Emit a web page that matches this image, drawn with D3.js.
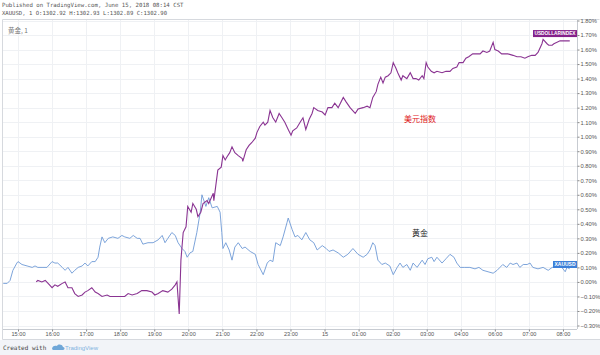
<!DOCTYPE html>
<html><head><meta charset="utf-8">
<script src="https://cdn.jsdelivr.net/npm/d3@7"></script>
<style>html,body{margin:0;padding:0;background:#fff;}svg{display:block;}</style>
</head><body>
<script>
// ---- data ----
// session minutes since 15:00 (05:00-06:00 break removed), value in %
const goldMinutes = [-26,-19,-14,-9,-2,0,7,16,25,30,35,44,51,60,65,70,78,83,88,95,100,106,113,118,123,130,136,141,144,148,153,159,167,176,183,188,197,203,210,215,220,229,238,247,254,259,264,271,277,282,289,294,298,303,308,315,321,324,331,336,342,351,356,359,361,366,372,377,382,388,395,400,409,418,423,432,439,444,449,454,462,467,474,476,483,488,493,500,507,514,521,527,536,543,548,555,564,573,581,590,599,608,615,620,625,629,634,641,647,655,661,668,673,678,685,691,696,703,712,717,722,729,733,738,747,754,761,768,773,779,787,796,805,812,819,828,837,844,849,854,861,867,872,879,884,890,897,902,907,916,925,934,941,950,958,964,967,972];
const goldValues = [-0.01,-0.01,0.01,0.08,0.13,0.14,0.12,0.11,0.10,0.11,0.10,0.10,0.10,0.14,0.13,0.13,0.10,0.08,0.10,0.06,0.08,0.10,0.11,0.13,0.11,0.14,0.14,0.17,0.24,0.31,0.27,0.30,0.31,0.30,0.32,0.31,0.30,0.32,0.30,0.30,0.26,0.27,0.27,0.29,0.32,0.27,0.30,0.34,0.32,0.27,0.23,0.21,0.17,0.20,0.21,0.34,0.48,0.60,0.52,0.58,0.51,0.52,0.48,0.34,0.23,0.27,0.22,0.15,0.24,0.27,0.23,0.24,0.21,0.19,0.12,0.05,0.13,0.15,0.14,0.27,0.25,0.31,0.41,0.44,0.36,0.31,0.32,0.29,0.34,0.29,0.27,0.22,0.25,0.23,0.21,0.22,0.20,0.17,0.19,0.23,0.19,0.17,0.19,0.22,0.27,0.25,0.15,0.12,0.13,0.11,0.05,0.10,0.13,0.10,0.12,0.08,0.13,0.10,0.15,0.12,0.16,0.17,0.14,0.17,0.13,0.16,0.19,0.17,0.13,0.10,0.10,0.10,0.09,0.10,0.08,0.07,0.06,0.08,0.10,0.12,0.10,0.13,0.12,0.13,0.10,0.12,0.12,0.13,0.10,0.09,0.10,0.08,0.10,0.10,0.10,0.07,0.10,0.09];

const usdMinutes = [32,35,42,48,53,60,65,70,78,83,88,95,100,106,113,118,123,130,136,141,148,157,162,171,180,188,194,201,210,218,227,236,241,247,255,264,271,277,280,284,287,291,296,299,305,308,314,317,322,326,333,336,344,345,349,352,358,361,365,368,373,377,382,388,395,396,402,407,412,418,421,426,432,435,440,444,449,454,460,465,470,476,481,484,491,497,502,507,513,518,521,528,536,541,546,553,558,564,573,578,585,594,599,608,615,620,625,631,634,639,643,647,652,657,661,666,669,675,678,685,691,696,701,706,712,715,719,722,728,733,738,747,754,761,766,773,777,784,789,794,801,808,814,819,826,831,837,840,846,852,858,863,872,879,886,893,898,905,911,916,923,925,932,935,941,944,955,972];
const usdValues = [0.00,0.01,0.00,0.01,-0.01,-0.04,-0.02,-0.03,-0.01,0.00,-0.04,-0.04,-0.08,-0.10,-0.09,-0.07,-0.06,-0.04,-0.07,-0.08,-0.10,-0.09,-0.10,-0.10,-0.10,-0.10,-0.08,-0.09,-0.08,-0.06,-0.06,-0.07,-0.09,-0.08,-0.06,-0.07,-0.05,-0.02,0.00,-0.22,0.15,0.34,0.38,0.52,0.48,0.54,0.50,0.45,0.48,0.54,0.56,0.54,0.61,0.56,0.68,0.77,0.79,0.87,0.84,0.86,0.89,0.93,0.89,0.87,0.85,0.83,0.91,0.94,0.96,0.99,1.03,1.07,1.10,1.08,1.10,1.18,1.13,1.10,1.16,1.13,1.10,1.05,1.01,1.04,1.06,1.10,1.13,1.05,1.12,1.16,1.20,1.18,1.17,1.15,1.20,1.20,1.23,1.20,1.27,1.24,1.20,1.16,1.19,1.20,1.21,1.20,1.27,1.31,1.36,1.41,1.37,1.41,1.42,1.44,1.51,1.47,1.44,1.39,1.42,1.40,1.44,1.40,1.40,1.39,1.42,1.40,1.51,1.48,1.45,1.44,1.45,1.44,1.45,1.45,1.47,1.48,1.51,1.51,1.54,1.55,1.57,1.57,1.57,1.59,1.58,1.59,1.65,1.60,1.59,1.57,1.57,1.57,1.56,1.55,1.55,1.54,1.55,1.56,1.56,1.58,1.64,1.67,1.64,1.63,1.63,1.64,1.66,1.66];

const tickMinutes = [0,60,120,180,240,300,360,420,480,540,600,660,720,780,840,900,960];
const tickLabels = ["15:00","16:00","17:00","18:00","19:00","20:00","21:00","22:00","23:00","15","01:00","02:00","03:00","04:00","06:00","07:00","08:00"];
const yTicks = [-0.3,-0.2,-0.1,0,0.1,0.2,0.3,0.4,0.5,0.6,0.7,0.8,0.9,1.0,1.1,1.2,1.3,1.4,1.5,1.6,1.7,1.8];

const W = 600, H = 355;
const L = 3, R = 577, T = 20, B = 329;
const AX = "'Liberation Sans', Arial, sans-serif";

const svg = d3.select("body").append("svg").attr("width", W).attr("height", H)
  .style("font-family", AX);

const x = d3.scaleLinear().domain([(L-18)*1.7616, (R-18)*1.7616]).range([L, R]);
const y = d3.scaleLinear().domain([-0.30, 1.80]).range([325.5, 20.5]);

// footer background
svg.append("rect").attr("x",0).attr("y",340).attr("width",W).attr("height",15).attr("fill","#f2f4f8");

// header text
svg.append("text").attr("x",2).attr("y",7).attr("font-family","'DejaVu Sans Mono', monospace")
  .attr("font-size",5.7).attr("fill","#555").text("Published on TradingView.com, June 15, 2018 08:14 CST");
svg.append("text").attr("x",2).attr("y",15).attr("font-family","'DejaVu Sans Mono', monospace")
  .attr("font-size",5.6).attr("fill","#555").text("XAUUSD, 1 O:1302.92 H:1302.93 L:1302.89 C:1302.90");

// frame (left, top, bottom)
svg.append("path").attr("d",`M${W-0.5},${T-0.5}H${L-0.5}V${339.5}H${W}`)
  .attr("fill","none").attr("stroke","#d6d9de");

// grid
const grid = svg.append("g");
grid.selectAll("line.h").data(yTicks).join("line")
  .attr("x1",L).attr("x2",R).attr("y1",d=>Math.round(y(d))+0.5).attr("y2",d=>Math.round(y(d))+0.5)
  .attr("stroke","#eff1f4").attr("stroke-width",1);
grid.selectAll("line.v").data(tickMinutes).join("line")
  .attr("y1",T).attr("y2",B).attr("x1",d=>Math.round(x(d))+0.5).attr("x2",d=>Math.round(x(d))+0.5)
  .attr("stroke","#eff1f4").attr("stroke-width",1);

// axes
const yAxis = d3.axisRight(y).tickValues(yTicks).tickSize(2).tickPadding(1)
  .tickFormat(d => d3.format(".2f")(d) + "%");
const gy = svg.append("g").attr("transform",`translate(${R+0.5},0)`).call(yAxis);
gy.select(".domain").attr("stroke","#c7cbd1").attr("d",`M0,${T}V${B}`);
gy.selectAll(".tick line").attr("stroke","#888");
gy.selectAll("text").attr("font-size",5.8).attr("fill","#555").attr("font-family",AX);

const xAxis = d3.axisBottom(x).tickValues(tickMinutes).tickSize(2).tickPadding(1)
  .tickFormat((d,i) => tickLabels[i]);
const gx = svg.append("g").attr("transform",`translate(0,${B+0.5})`).call(xAxis);
gx.select(".domain").attr("stroke","#c7cbd1").attr("d",`M${L},0H${R}`);
gx.selectAll(".tick line").attr("stroke","#888");
gx.selectAll("text").attr("font-size",5.6).attr("fill","#555").attr("font-family",AX);

// lines
const gold = goldMinutes.map((m,i)=>[m, goldValues[i]]);
const usd = usdMinutes.map((m,i)=>[m, usdValues[i]]);
const line = d3.line().x(d=>x(d[0])).y(d=>y(d[1]));
svg.append("path").datum(gold).attr("d",line).attr("fill","none").attr("stroke","#6e9ad6").attr("stroke-width",0.9);
svg.append("path").datum(usd).attr("d",line).attr("fill","none").attr("stroke","#8a3492").attr("stroke-width",1.1);

// series tags
function tag(text, val, color, w) {
  const g = svg.append("g");
  g.append("rect").attr("x",R-w).attr("y",y(val)-3.5).attr("width",w).attr("height",7).attr("fill",color);
  g.append("text").attr("x",R-w+1.5).attr("y",y(val)+1.9)
    .attr("font-size",5).attr("font-weight","bold").attr("fill","#fff")
    .attr("textLength",w-3).attr("lengthAdjust","spacingAndGlyphs").text(text);
}
tag("USDOLLARINDEX", usdValues[usdValues.length-1]+0.05, "#84208a", 44);
tag("XAUUSD", goldValues[goldValues.length-1]+0.03, "#3c7fd8", 24);

// annotations
svg.append("text").attr("x",8).attr("y",33).attr("font-size",6.5).attr("fill","#777")
  .attr("font-family","'Noto Sans CJK SC', sans-serif").text("黄金, 1");
svg.append("text").attr("x",420).attr("y",122).attr("text-anchor","middle").attr("font-size",8)
  .attr("fill","#e0201b").attr("font-family","'Noto Sans CJK SC', sans-serif").text("美元指数");
svg.append("text").attr("x",420).attr("y",236).attr("text-anchor","middle").attr("font-size",8)
  .attr("fill","#222").attr("font-family","'Noto Sans CJK SC', sans-serif").text("黄金");

// footer
svg.append("text").attr("x",3).attr("y",350).attr("font-family","'DejaVu Sans Mono', monospace")
  .attr("font-size",6).attr("fill","#444").text("Created with");
const logo = svg.append("g").attr("transform","translate(52,344)");
logo.append("path").attr("d","M0,5 C0,2 3,1 5,2 C6,0 10,0 11,3 C13,3 13,6 11,6 L1,6 Z").attr("fill","#6fa7d8");
svg.append("text").attr("x",65).attr("y",350).attr("font-size",6).attr("fill","#7fb3e0").text("TradingView");
</script>
</body></html>
